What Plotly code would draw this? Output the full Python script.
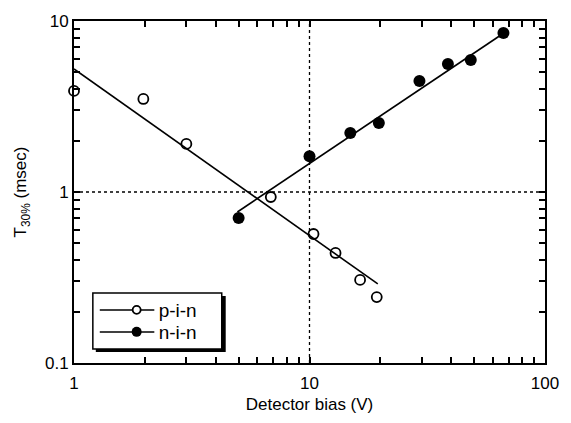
import plotly.graph_objects as go

# p-i-n detector (open circles)
pin_bias = [1.0, 1.97, 3.0, 6.85, 10.4, 12.9, 16.4, 19.3]
pin_t30 = [3.9, 3.5, 1.91, 0.935, 0.568, 0.44, 0.306, 0.243]
# n-i-n detector (filled circles)
nin_bias = [5.0, 10.0, 14.9, 19.7, 29.3, 38.7, 48.4, 66.6]
nin_t30 = [0.705, 1.62, 2.21, 2.53, 4.46, 5.6, 5.92, 8.5]
# fitted lines (end points)
pin_fit_bias = [1.0, 19.5]
pin_fit_t30 = [5.24, 0.29]
nin_fit_bias = [4.94, 65.0]
nin_fit_t30 = [0.764, 8.28]

x_ticks = [1, 2, 3, 4, 5, 6, 7, 8, 9, 10, 20, 30, 40, 50, 60, 70, 80, 90, 100]
x_ticktext = ["1", "", "", "", "", "", "", "", "", "10", "", "", "", "", "", "", "", "", "100"]
y_ticks = [0.1, 0.2, 0.3, 0.4, 0.5, 0.6, 0.7, 0.8, 0.9, 1, 2, 3, 4, 5, 6, 7, 8, 9, 10]
y_ticktext = ["0.1", "", "", "", "", "", "", "", "", "1", "", "", "", "", "", "", "", "", "10"]

FONT = "Liberation Sans, Arial, sans-serif"
W, H = 571, 423
L, R, T, B = 74, 22, 21, 60
PW, PH = W - L - R, H - T - B

def px(x):
    return (x - L) / PW

def py(y):
    return (H - B - y) / PH

ROW1, ROW2 = 310, 332

fig = go.Figure()
fig.add_trace(go.Scatter(x=pin_fit_bias, y=pin_fit_t30, mode="lines",
                         line=dict(color="black", width=1.6), showlegend=False, hoverinfo="skip"))
fig.add_trace(go.Scatter(x=nin_fit_bias, y=nin_fit_t30, mode="lines",
                         line=dict(color="black", width=1.6), showlegend=False, hoverinfo="skip"))
fig.add_trace(go.Scatter(x=pin_bias, y=pin_t30, mode="markers", name="p-i-n",
                         marker=dict(symbol="circle-open", size=10, color="black", line=dict(width=1.8)),
                         showlegend=False, cliponaxis=False))
fig.add_trace(go.Scatter(x=nin_bias, y=nin_t30, mode="markers", name="n-i-n",
                         marker=dict(symbol="circle", size=12, color="black"),
                         showlegend=False, cliponaxis=False))
# legend entries
fig.add_trace(go.Scatter(x=[None], y=[None], mode="markers", name="p-i-n", legend="legend",
                         marker=dict(symbol="circle", size=8, color="white", line=dict(color="black", width=1.8))))
fig.add_trace(go.Scatter(x=[None], y=[None], mode="markers", name="n-i-n", legend="legend2",
                         marker=dict(symbol="circle", size=10, color="black")))

axis_common = dict(
    type="log", showline=True, linecolor="black", linewidth=2, mirror="ticks",
    ticks="inside", ticklen=6, tickwidth=1.6, tickcolor="black",
    showgrid=False, zeroline=False, tickmode="array",
    tickfont=dict(family=FONT, size=17, color="black"),
)

fig.update_xaxes(**axis_common, range=[0, 2], tickvals=x_ticks, ticktext=x_ticktext,
                 ticklabelstandoff=4,
                 title=dict(text="Detector bias (V)", font=dict(family=FONT, size=17, color="black"), standoff=6))
fig.update_yaxes(**axis_common, range=[-1, 1], tickvals=y_ticks, ticktext=y_ticktext,
                 title=dict(text="T<sub>30%</sub> (msec)", font=dict(family=FONT, size=17, color="#000000"), standoff=14))

shapes = [
    dict(type="line", xref="x", yref="paper", x0=10, x1=10, y0=0, y1=1,
         line=dict(color="black", width=1.3, dash="dot"), layer="below"),
    dict(type="line", xref="paper", yref="y", x0=0, x1=1, y0=1, y1=1,
         line=dict(color="black", width=1.3, dash="dot"), layer="below"),
    # legend shadow + box
    dict(type="rect", xref="paper", yref="paper", x0=px(96), x1=px(227), y0=py(352), y1=py(296),
         fillcolor="black", line=dict(width=0), layer="above"),
    dict(type="rect", xref="paper", yref="paper", x0=px(93), x1=px(223), y0=py(349), y1=py(293),
         fillcolor="white", line=dict(color="black", width=1.5), layer="above"),
    # legend sample lines
    dict(type="line", xref="paper", yref="paper", x0=px(100), x1=px(155), y0=py(ROW1), y1=py(ROW1),
         line=dict(color="black", width=1.6), layer="above"),
    dict(type="line", xref="paper", yref="paper", x0=px(100), x1=px(155), y0=py(ROW2), y1=py(ROW2),
         line=dict(color="black", width=1.6), layer="above"),
]

legend_common = dict(xanchor="left", yanchor="middle", bgcolor="rgba(0,0,0,0)", borderwidth=0,
                     font=dict(family=FONT, size=19, color="black"), itemwidth=34)

fig.update_layout(
    width=W, height=H, margin=dict(l=L, r=R, t=T, b=B),
    paper_bgcolor="white", plot_bgcolor="white",
    shapes=shapes,
    showlegend=True,
    legend=dict(x=px(115), y=py(ROW1), **legend_common),
    legend2=dict(x=px(115), y=py(ROW2), **legend_common),
)

fig.write_html("out.html")
